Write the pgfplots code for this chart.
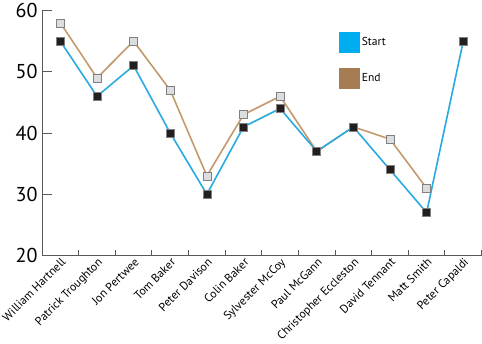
\documentclass[border=0pt]{standalone}
\usepackage{pgfplots}
\pgfplotsset{compat=1.18}
\usepackage{fontspec}
\setmainfont{PT Sans}
\definecolor{startblue}{HTML}{29ABE2}
\definecolor{legblue}{HTML}{00AEEF}
\definecolor{endtan}{HTML}{C49A6C}
\definecolor{legtan}{HTML}{A67C52}
\definecolor{axgray}{HTML}{58595B}
\definecolor{mkdark}{HTML}{231F20}
\definecolor{mklight}{HTML}{DCDDDE}
\begin{document}
\begin{tikzpicture}
\begin{axis}[
  scale only axis, width=438pt, height=244pt,
  xmin=-0.5, xmax=11.5, ymin=20, ymax=60,
  axis lines*=left,
  axis line style={axgray, line width=0.9pt},
  ytick={20,30,...,60},
  xtick={0,...,11},
  xticklabels={William Hartnell,Patrick Troughton,Jon Pertwee,Tom Baker,Peter Davison,Colin Baker,Sylvester McCoy,Paul McGann,Christopher Eccleston,David Tennant,Matt Smith,Peter Capaldi},
  minor xtick={-0.5,0.5,...,11.5},
  major x tick style={draw=none},
  tick align=inside,
  major tick length=10pt,
  minor tick length=5pt,
  tick style={axgray, line width=0.9pt},
  x tick label style={rotate=45, anchor=north east, font=\fontsize{11.8}{13}\selectfont, inner sep=1pt, text=black},
  y tick label style={font=\fontsize{20}{22}\selectfont, text=black, xshift=-1pt},
  /pgf/number format/assume math mode=true,
  clip=false,
  legend image code/.code={\fill[#1] (0pt,-10pt) rectangle (20pt,10pt);},
  legend style={at={(rel axis cs:0.676,0.914)}, anchor=north west, draw=none, fill=none, inner sep=0pt, row sep=16pt, font=\fontsize{11.5}{13}\selectfont, cells={anchor=west}},
]
\addlegendimage{legblue}
\addlegendentry{Start}
\addlegendimage{legtan}
\addlegendentry{End}
\addplot[endtan, line width=1.6pt, mark=square*, mark size=4pt, mark options={fill=mklight, draw=gray, line width=0.6pt}, forget plot]
  coordinates {(0,58)(1,49)(2,55)(3,47)(4,33)(5,43)(6,46)(7,37)(8,41)(9,39)(10,31)};
\addplot[startblue, line width=1.6pt, mark=square*, mark size=4pt, mark options={fill=mkdark, draw=gray, line width=0.6pt}, forget plot]
  coordinates {(0,55)(1,46)(2,51)(3,40)(4,30)(5,41)(6,44)(7,37)(8,41)(9,34)(10,27)(11,55)};
\end{axis}
\end{tikzpicture}
\end{document}
